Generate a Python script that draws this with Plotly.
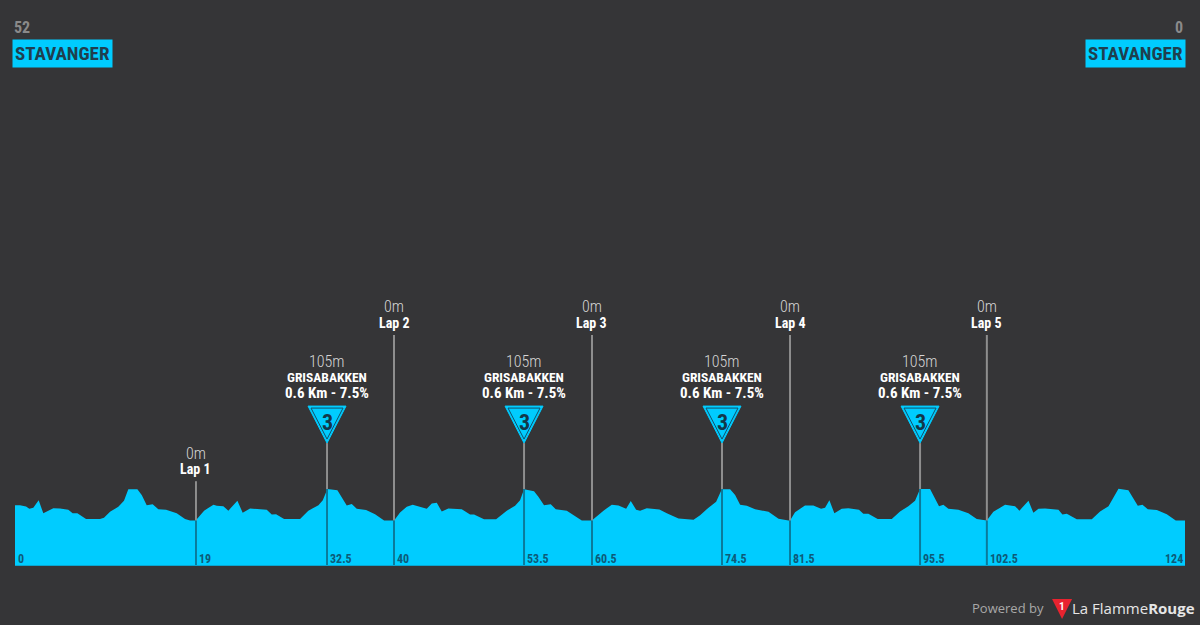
import plotly.graph_objects as go

# profile: distance (km), elevation (m)
profile_km = [
    0, 0.53, 1.17, 1.52, 1.94, 2.51, 3.0, 3.71, 4.06, 4.77, 5.65, 6.11, 6.61, 7.53, 9.01, 9.43, 10.07, 10.95,
    11.55, 12.01, 12.97, 13.43, 13.96, 14.59, 15.19, 16.01, 17.14, 18.02, 18.55, 19.15,
    20.04, 21.03, 21.38, 22.08, 22.61, 23.57, 24.13, 24.91, 25.62, 26.68, 27.21, 27.67, 28.52, 30.21,
    31.09, 32.16, 32.62, 33.11, 34.17, 34.63, 35.16, 35.69, 36.22, 37.21, 38.16, 39.12, 40.18,
    40.81, 41.52, 42.15, 43.64, 44.17, 44.70, 45.23, 45.93, 47.35, 48.23, 48.65, 49.71, 50.99, 52.12,
    53.0, 53.53, 53.95, 55.01, 55.47, 56.07, 56.78, 57.31, 58.48, 60.07, 61.13,
    62.37, 63.25, 63.96, 64.77, 65.26, 65.83, 66.25, 66.96, 68.3, 69.08, 70.32, 71.91, 72.61, 73.5,
    74.31, 74.91, 75.79, 76.32, 76.85, 77.56, 78.44, 79.86, 80.92, 81.98, 82.14,
    82.67, 83.73, 84.61, 85.43, 85.85, 86.31, 86.84, 87.62, 88.32, 89.45, 89.91, 90.44, 91.43, 92.92,
    93.8, 94.68, 95.39, 95.92, 96.98, 97.93, 98.39, 98.92, 99.98, 101.04, 101.93, 102.99,
    103.69, 104.93, 105.99, 106.45, 107.41, 107.93, 108.47, 109.17, 110.59, 111.01, 111.47, 112.53, 114.12,
    115.0, 115.89, 116.95, 118.0, 119.0, 119.49, 120.06, 121.01, 122.07, 123.02, 124,
]
profile_m = [
    51, 51, 47, 39, 43, 68, 24, 37, 41, 40, 36, 24, 24, 5, 5, 9, 29, 46,
    66, 104, 104, 85, 51, 54, 38, 36, 24, 5, 0, 0,
    33, 53, 49, 48, 33, 66, 26, 40, 39, 36, 20, 21, 5, 5,
    33, 51, 68, 105, 101, 79, 50, 55, 39, 35, 21, 0, 0,
    27, 46, 53, 39, 57, 59, 30, 40, 38, 20, 20, 4, 4, 33,
    49, 68, 104, 98, 79, 51, 54, 38, 33, 0, 0,
    33, 53, 50, 39, 65, 36, 33, 41, 37, 24, 7, 3, 18, 43,
    63, 104, 104, 85, 53, 49, 38, 29, 6, 0, 0,
    28, 50, 50, 39, 43, 68, 24, 39, 41, 36, 23, 23, 5, 5,
    30, 48, 66, 105, 105, 48, 53, 39, 36, 24, 5, 0,
    29, 53, 48, 33, 66, 26, 39, 40, 36, 20, 23, 4, 4,
    30, 48, 106, 101, 49, 53, 38, 35, 21, 0, 0,
]

# laps and climbs along the route
lap_km = [19.18, 40.17, 61.15, 82.14, 103.0]
lap_labels = ["19", "40", "60.5", "81.5", "102.5"]
lap_names = ["Lap 1", "Lap 2", "Lap 3", "Lap 4", "Lap 5"]
lap_tops = [131, 618, 618, 618, 618]

climb_km = [33.07, 53.95, 74.93, 95.92]
climb_labels = ["32.5", "53.5", "74.5", "95.5"]
climb_m = 105
climb_top = 258

BG = "#353537"
CYAN = "#00ccff"
TEAL = "#0b7a9b"
DARK_TEXT = "#0d5a78"
GREY = "#8e8e8e"
BASE = -148
NARROW = "Roboto Condensed, Roboto"

fig = go.Figure()

# floor of the filled profile
fig.add_trace(go.Scatter(x=[0, 124], y=[BASE, BASE], mode="lines", line=dict(width=0), hoverinfo="skip"))
fig.add_trace(go.Scatter(
    x=profile_km, y=profile_m,
    mode="lines",
    line=dict(color=CYAN, width=0),
    fill="tonexty",
    fillcolor=CYAN,
    hoverinfo="skip",
))

# vertical markers: grey above the profile, teal inside it
for km, top in zip(lap_km, lap_tops):
    fig.add_trace(go.Scatter(x=[km, km], y=[0, top], mode="lines", line=dict(color=GREY, width=2)))
    fig.add_trace(go.Scatter(x=[km, km], y=[BASE, 0], mode="lines", line=dict(color=TEAL, width=2)))
for km in climb_km:
    fig.add_trace(go.Scatter(x=[km, km], y=[climb_m, climb_top], mode="lines", line=dict(color=GREY, width=2)))
    fig.add_trace(go.Scatter(x=[km, km], y=[BASE, climb_m], mode="lines", line=dict(color=TEAL, width=2)))

shapes = []
annotations = []


def note(x, y, text, size, color, font=NARROW, anchor="center", weight=None, **kw):
    annotations.append(dict(
        x=x, y=y, text=text, showarrow=False, xanchor=anchor, yanchor="middle",
        font=dict(family=font, size=size, color=color, weight=weight), **kw
    ))


# lap labels
for km, top, name in zip(lap_km, lap_tops, lap_names):
    note(km, top, "0m", 16, "#d4d4d4", weight=300, yshift=28)
    note(km, top, f"<b>{name}</b>", 14, "white", yshift=12)

# climb labels and category triangles
for km in climb_km:
    note(km, climb_top, "105m", 16, "#d4d4d4", weight=300, yshift=82)
    note(km, climb_top, "<b>GRISABAKKEN</b>", 13.5, "white", yshift=66)
    note(km, climb_top, "<b>0.6 Km - 7.5%</b>", 15, "white", yshift=50)
    note(km, climb_top, "<b>3</b>", 22, "#12384a", yshift=21)
    shapes.append(dict(
        type="path", xref="x", yref="y", xsizemode="pixel", ysizemode="pixel",
        xanchor=km, yanchor=climb_top,
        path="M-19,37 L19,37 L0,0 Z",
        fillcolor=CYAN, line=dict(color=CYAN, width=1), layer="below",
    ))
    shapes.append(dict(
        type="path", xref="x", yref="y", xsizemode="pixel", ysizemode="pixel",
        xanchor=km, yanchor=climb_top,
        path="M-16,35 L16,35 L0,4 Z",
        fillcolor=CYAN, line=dict(color="#12506a", width=1), layer="below",
    ))

# km labels along the base
for km, label in zip([0] + lap_km + climb_km, ["0"] + lap_labels + climb_labels):
    note(km, BASE, f"<b>{label}</b>", 12, DARK_TEXT, anchor="left", yshift=6, xshift=1)
note(124, BASE, "<b>124</b>", 12, DARK_TEXT, anchor="right", yshift=6)

# start and finish
note(0, 0.9505, "<b>52</b>", 16, "#8a8a8a", anchor="left", yref="paper", xshift=-3)
note(124, 0.9505, "<b>0</b>", 16, "#8a8a8a", anchor="right", yref="paper")
note(0, 0.9055, "<b>STAVANGER</b>", 19, "#1f3f4f", anchor="left", yref="paper", xshift=-3,
     bgcolor=CYAN, width=95, height=23, borderpad=2)
note(124, 0.9055, "<b>STAVANGER</b>", 19, "#1f3f4f", anchor="right", yref="paper", xshift=1,
     bgcolor=CYAN, width=95, height=23, borderpad=2)

# footer
note(0.8487, -0.0761, "Powered by", 13, "#a8a8a8", "Open Sans", xref="paper", yref="paper")
note(1.0, -0.0761, "La Flamme<b>Rouge</b>", 15, "#e6e6e6", "Open Sans", anchor="right", xref="paper", yref="paper",
     xshift=12)
note(0.8949, -0.0735, "<b>1</b>", 10, "white", "Roboto", xref="paper", yref="paper")
shapes.append(dict(
    type="path", xref="paper", yref="paper", xsizemode="pixel", ysizemode="pixel",
    xanchor=0.8949, yanchor=-0.0956,
    path="M-10,20 L10,20 L0,0 Z",
    fillcolor="#e8232f", line=dict(width=0), layer="below",
))

fig.update_layout(
    width=1200, height=625,
    margin=dict(l=15, r=15, t=0, b=60),
    paper_bgcolor=BG, plot_bgcolor=BG,
    showlegend=False,
    shapes=shapes,
    annotations=annotations,
    xaxis=dict(range=[0, 124], visible=True, showgrid=False, zeroline=False, showticklabels=False,
               ticks="", showline=True, linecolor="#0aa5d0", linewidth=1),
    yaxis=dict(range=[BASE, BASE + 565 * 3.33], visible=False, showgrid=False, zeroline=False),
)

# the page body has a default margin, which would shift the whole figure
fig.write_html(
    "out.html",
    config={"displayModeBar": False},
    post_script="document.body.style.margin = '0'; document.body.style.background = '#353537';",
)
